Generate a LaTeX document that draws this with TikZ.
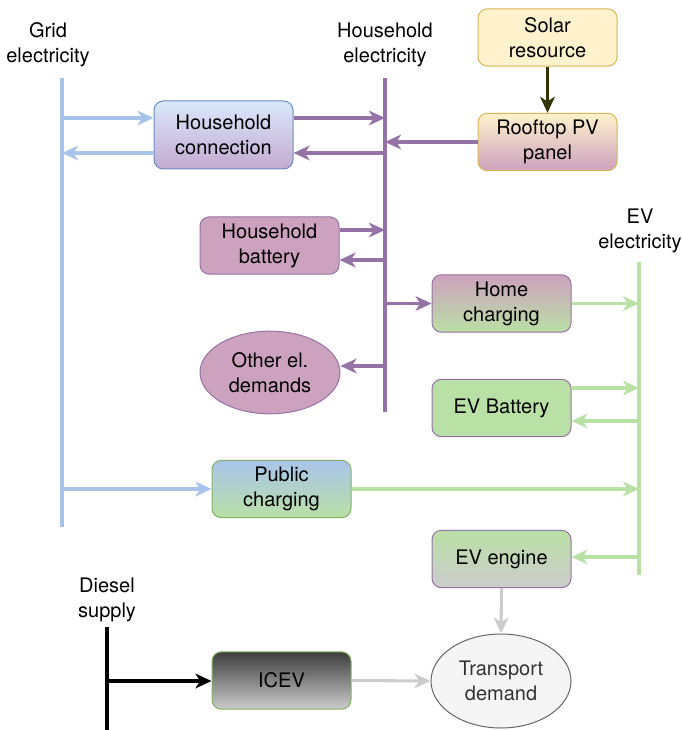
\documentclass[tikz,border=0pt]{standalone}
\usepackage{fontspec}
\setmainfont{TeX Gyre Heros}
\usetikzlibrary{arrows.meta,shapes.geometric}

\definecolor{gridblue}{HTML}{A9C4EB}
\definecolor{lightblue}{HTML}{DAE8FC}
\definecolor{blueedge}{HTML}{6C8EBF}
\definecolor{hhpurple}{HTML}{9673A6}
\definecolor{mauve}{HTML}{CDA2BE}
\definecolor{lavender}{HTML}{C3ABD0}
\definecolor{evgreen}{HTML}{B9E0A5}
\definecolor{greenedge}{HTML}{82B366}
\definecolor{solarfill}{HTML}{FFF2CC}
\definecolor{solaredge}{HTML}{D6B656}
\definecolor{olive}{HTML}{333300}
\definecolor{lightgray}{HTML}{CCCCCC}
\definecolor{darkgray}{HTML}{333333}
\definecolor{palegray}{HTML}{F5F5F5}
\definecolor{edgegray}{HTML}{666666}

\tikzset{
  box/.style={rectangle, rounded corners=7pt, line width=0.75pt,
    minimum width=104.25pt, minimum height=43pt, align=center,
    inner sep=0pt, font=\fontsize{15}{18.75}\selectfont},
  oval/.style={ellipse, line width=0.75pt, minimum width=105pt,
    align=center, inner sep=0pt, font=\fontsize{15}{18.75}\selectfont},
  lbl/.style={align=center, inner sep=0pt, font=\fontsize{15}{18.75}\selectfont},
  bus/.style={line width=2.3pt},
  tip/.style={-{Stealth[length=12pt, width=11pt, inset=3.5pt]}},
  barr/.style={bus, tip, draw=gridblue},
  parr/.style={bus, tip, draw=hhpurple},
  garr/.style={bus, tip, draw=evgreen},
  karr/.style={bus, tip, draw=black},
  larr/.style={bus, tip, draw=lightgray},
}

\begin{document}
\begin{tikzpicture}[x=0.75pt, y=-0.75pt]
\useasboundingbox (0,0) rectangle (681,730);

% bus labels
\node[lbl] (glab) at (48,45) {Grid\\electricity};
\node[lbl] (hlab) at (385,45) {Household\\electricity};
\node[lbl] (elab) at (640,231) {EV\\electricity};
\node[lbl] (dlab) at (107,600) {Diesel\\supply};

% buses
\coordinate (gT) at (62,78);   \coordinate (gB) at (62,527);
\coordinate (hT) at (385,78);  \coordinate (hB) at (385,412);
\coordinate (eT) at (639,262); \coordinate (eB) at (639,575);
\coordinate (dT) at (107,627); \coordinate (dB) at (107,730);
\draw[bus, gridblue] (gT) -- (gB);
\draw[bus, hhpurple] (hT) -- (hB);
\draw[bus, evgreen] (eT) -- (eB);
\draw[bus, black] (dT) -- (dB);

% technology nodes
\node[box, draw=solaredge, fill=solarfill] (sol) at (547.5,37.5) {Solar\\resource};
\node[box, draw=solaredge, top color=solarfill, bottom color=mauve] (pv) at (547.5,142) {Rooftop PV\\panel};
\node[box, draw=blueedge, top color=lightblue, bottom color=lavender, minimum height=51pt] (hc) at (223.5,135) {Household\\connection};
\node[box, draw=hhpurple, fill=mauve] (hbat) at (269.5,245.5) {Household\\battery};
\node[oval, draw=hhpurple, fill=mauve, minimum width=105pt, minimum height=62pt] (oth) at (270,372.5) {Other el.\\demands};
\node[box, draw=hhpurple, top color=mauve, bottom color=evgreen] (hch) at (501.5,303.5) {Home\\charging};
\node[box, draw=hhpurple, fill=evgreen] (evb) at (501.5,408) {EV Battery};
\node[box, draw=greenedge, top color=gridblue, bottom color=evgreen] (pc) at (281.5,489) {Public\\charging};
\node[box, draw=hhpurple, top color=evgreen, bottom color=lightgray] (eng) at (501.5,559) {EV engine};
\node[box, draw=greenedge, top color=darkgray!95!white, bottom color=lightgray] (icev) at (281.5,680.5) {ICEV};
\node[oval, draw=edgegray, fill=palegray, text=darkgray, minimum width=105pt, minimum height=70.5pt] (td) at (501,681) {Transport\\demand};

% solar input
\draw[bus, tip, draw=olive] (sol.south) -- (pv.north);

% grid taps
\coordinate (g1) at (62,118);
\coordinate (g2) at (62,153);
\coordinate (g3) at (62,489);
\draw[barr] (g1) -- (g1 -| hc.west);
\draw[barr] (g2 -| hc.west) -- (g2);
\draw[barr] (g3) -- (g3 -| pc.west);

% household taps
\coordinate (h1) at (385,118);
\coordinate (h2) at (385,153);
\coordinate (h3) at (385,142);
\coordinate (h4) at (385,230);
\coordinate (h5) at (385,260);
\coordinate (h6) at (385,303.5);
\coordinate (h7) at (385,366);
\draw[parr] (h1 -| hc.east) -- (h1);
\draw[parr] (h2) -- (h2 -| hc.east);
\draw[parr] (h3 -| pv.west) -- (h3);
\draw[parr] (h4 -| hbat.east) -- (h4);
\draw[parr] (h5) -- (h5 -| hbat.east);
\draw[parr] (h6) -- (hch.west);
\draw[parr] (h7) -- (h7 -| oth.east);

% EV taps
\coordinate (e1) at (639,303.5);
\coordinate (e2) at (639,388);
\coordinate (e3) at (639,421);
\coordinate (e4) at (639,489);
\coordinate (e5) at (639,557);
\draw[garr] (hch.east) -- (e1);
\draw[garr] (e2 -| evb.east) -- (e2);
\draw[garr] (e3) -- (e3 -| evb.east);
\draw[garr] (pc.east) -- (e4);
\draw[garr] (e5) -- (e5 -| eng.east);

% transport
\coordinate (d1) at (107,681);
\draw[karr] (d1) -- (d1 -| icev.west);
\draw[larr] (icev.east) -- (td.west);
\draw[larr] (eng.south) -- (td.north);
\end{tikzpicture}
\end{document}
